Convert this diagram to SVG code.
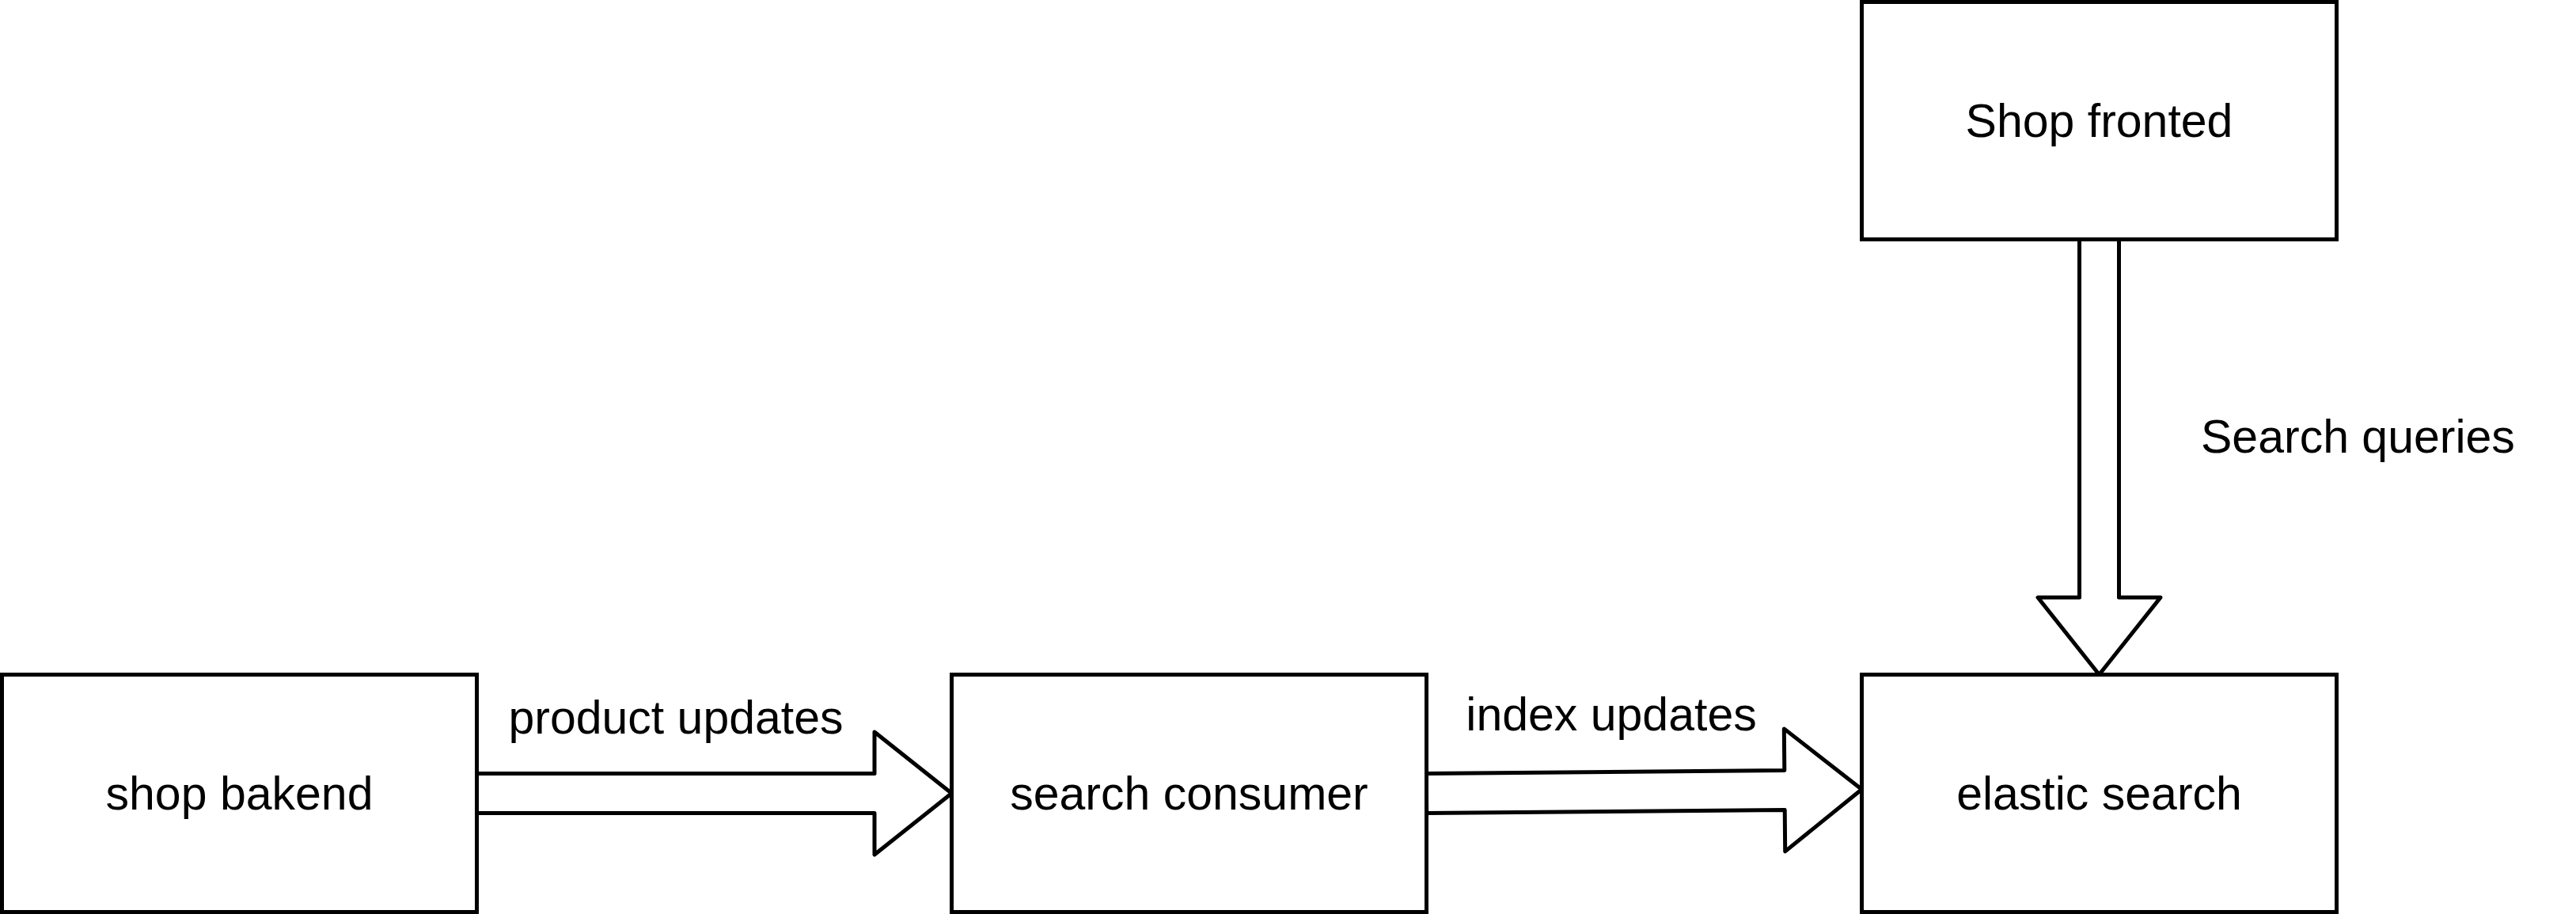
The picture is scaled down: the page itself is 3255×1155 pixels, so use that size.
<svg xmlns="http://www.w3.org/2000/svg" width="3255" height="1155" viewBox="0 0 3255 1155">
<style>
.box{fill:#ffffff;stroke:#000000;stroke-width:5}
.arrow{fill:#ffffff;stroke:#000000;stroke-width:5;stroke-linejoin:round}
text{font-family:"Liberation Sans",Arial,Helvetica,sans-serif;font-size:59px;fill:#000000}
.c{text-anchor:middle}
</style>
<rect x="0" y="0" width="3255" height="1155" fill="#ffffff"/>
<g id="connectors">
  <g id="edge-product-updates">
    <polygon class="arrow" points="602.5,977.5 1105,977.5 1105,925 1202.5,1002.5 1105,1080 1105,1027.5 602.5,1027.5"/>
    <text class="c" x="854" y="927">product updates</text>
  </g>
  <g id="edge-index-updates">
    <polygon class="arrow" points="1802.3,977.5 2254.8,973.4 2254.3,920.9 2352.5,997.5 2255.7,1075.9 2255.2,1023.4 1802.7,1027.5"/>
    <text class="c" x="2036" y="923">index updates</text>
  </g>
  <g id="edge-search-queries">
    <polygon class="arrow" points="2627.5,302.5 2677.5,302.5 2677.5,755 2730,755 2652.5,852.5 2575,755 2627.5,755"/>
    <text x="2781" y="572">Search queries</text>
  </g>
</g>
<g id="node-shop-bakend">
  <rect class="box" x="2.5" y="852.5" width="600" height="300"/>
  <text class="c" x="302.5" y="1023">shop bakend</text>
</g>
<g id="node-search-consumer">
  <rect class="box" x="1202.5" y="852.5" width="600" height="300"/>
  <text class="c" x="1502.5" y="1023">search consumer</text>
</g>
<g id="node-elastic-search">
  <rect class="box" x="2352.5" y="852.5" width="600" height="300"/>
  <text class="c" x="2652.5" y="1023">elastic search</text>
</g>
<g id="node-shop-fronted">
  <rect class="box" x="2352.5" y="2.5" width="600" height="300"/>
  <text class="c" x="2652.5" y="173">Shop fronted</text>
</g>
</svg>
